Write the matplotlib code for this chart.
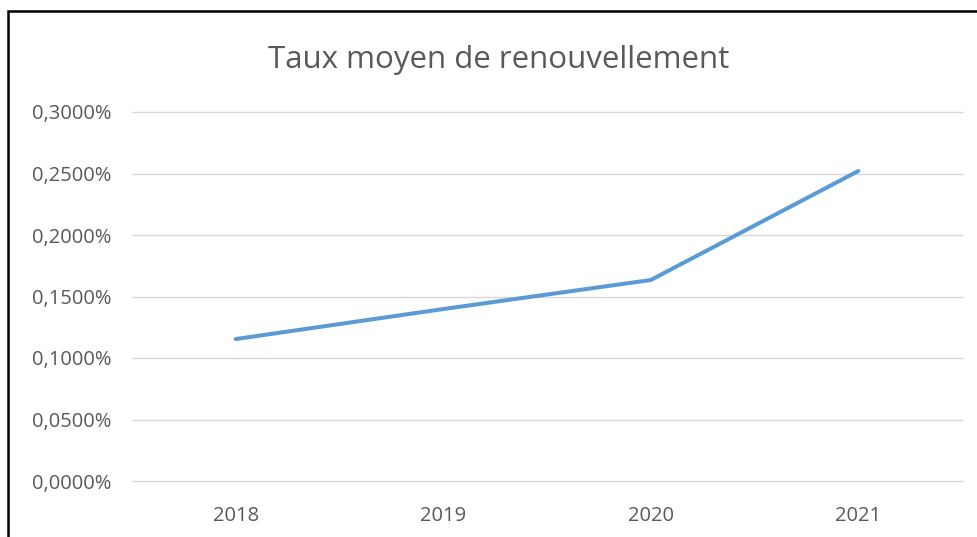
import matplotlib.pyplot as plt
from matplotlib.patches import Rectangle
from matplotlib.ticker import FuncFormatter

years = ['2018', '2019', '2020', '2021']
taux = [0.1154, 0.1398, 0.1634, 0.2520]  # in %
y_ticks = [0.0, 0.05, 0.10, 0.15, 0.20, 0.25, 0.30]

plt.rcParams['font.family'] = ['Open Sans', 'DejaVu Sans']

fig = plt.figure(figsize=(9.77, 5.37), dpi=100)
ax = fig.add_axes([132 / 977, 56 / 537, 830 / 977, 369 / 537])

ax.plot(range(len(years)), taux, color='#5B9BD5', linewidth=2.9, solid_capstyle='round')

ax.set_xlim(-0.5, len(years) - 0.5)
ax.set_ylim(0, 0.30)
ax.set_xticks(range(len(years)))
ax.set_xticklabels(years)
ax.set_yticks(y_ticks)
ax.yaxis.set_major_formatter(FuncFormatter(lambda v, p: f"{v:.4f}%".replace('.', ',')))
ax.grid(axis='y', color='#d9d9d9', linewidth=1)
for gl in ax.get_ygridlines():
    gl.set_clip_on(False)
ax.set_axisbelow(True)
for s in ax.spines.values():
    s.set_visible(False)
ax.tick_params(length=0, labelsize=14.5, labelcolor='#595959')
ax.tick_params(axis='y', pad=15)
ax.tick_params(axis='x', pad=18)

fig.text(499 / 977, 1 - 60 / 537, 'Taux moyen de renouvellement', ha='center', va='center',
         fontsize=22.5, color='#595959')

# chart border (cut off at right and bottom)
fig.patches.append(Rectangle((8 / 977, -0.1), 1.2, 1.1 - 11 / 537, transform=fig.transFigure,
                             fill=False, edgecolor='black', linewidth=1.8))

fig.savefig('out.png', dpi=100)
